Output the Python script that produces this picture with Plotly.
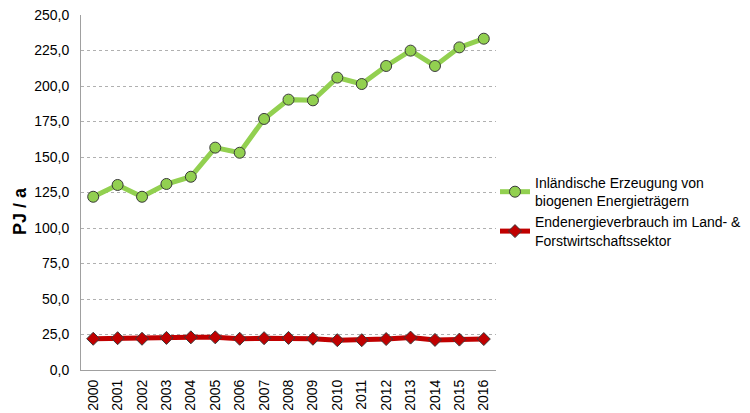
import plotly.graph_objects as go

YEARS = [str(y) for y in range(2000, 2017)]

ERZEUGUNG = [122.0, 130.3, 122.0, 131.0, 136.1, 156.6, 153.0, 176.8, 190.4,
             189.9, 205.9, 201.4, 214.1, 224.9, 214.1, 227.2, 233.3]
VERBRAUCH = [22.0, 22.4, 22.0, 22.6, 23.0, 23.0, 22.0, 22.4, 22.6,
             22.0, 21.0, 21.0, 21.8, 22.8, 21.2, 21.4, 21.8]

NAME_GREEN = "Inländische Erzeugung von<br>biogenen Energieträgern"
NAME_RED = "Endenergieverbrauch im Land- &<br>Forstwirtschaftssektor"

Y_TICKS = [0, 25, 50, 75, 100, 125, 150, 175, 200, 225, 250]

FONT = "Liberation Sans, Arial, sans-serif"

# the page body adds an 8px offset, so the figure is 8px smaller
OFF = 8
W, H = 750 - OFF, 413 - OFF
# plot area in window pixels: x 81..496, y 15..370
L, R, T, B = 81 - OFF, 750 - 496, 15 - OFF, 413 - 370
PW, PH = 496 - 81, 370 - 15

fig = go.Figure()
fig.add_trace(go.Scatter(
    x=YEARS, y=ERZEUGUNG, name=NAME_GREEN, mode="lines+markers",
    line=dict(color="#92D050", width=5),
    marker=dict(symbol="circle", size=11, color="#92D050",
                line=dict(color="#3a3a3a", width=1)),
))
fig.add_trace(go.Scatter(
    x=YEARS, y=VERBRAUCH, name=NAME_RED, mode="lines+markers",
    line=dict(color="#C00000", width=5),
    marker=dict(symbol="diamond", size=10, color="#C00000",
                line=dict(color="#3a3a3a", width=1)),
))

fig.update_layout(
    width=W, height=H,
    margin=dict(l=L, r=R, t=T, b=B, autoexpand=False),
    paper_bgcolor="white", plot_bgcolor="white",
    separators=",.",
    font=dict(family=FONT, size=14, color="black"),
    showlegend=True,
    legend=dict(x=(495 - 81) / PW, y=(370 - 167) / PH, xanchor="left", yanchor="top",
                font=dict(size=14), tracegroupgap=2,
                itemwidth=30, bgcolor="rgba(0,0,0,0)"),
    xaxis=dict(type="category", range=[-0.5, len(YEARS) - 0.5],
               tickangle=-90, showgrid=False, automargin=False,
               showline=True, linecolor="#a0a0a0", linewidth=1,
               ticks="", ticklabelstandoff=3, tickfont=dict(size=14)),
    yaxis=dict(range=[0, 250], tickvals=Y_TICKS, tickformat=".1f", automargin=False,
               ticklabeloverflow="allow",
               showgrid=True, gridcolor="#b0b0b0", griddash="3px,3px", gridwidth=1,
               showline=True, linecolor="#a0a0a0", linewidth=1,
               zeroline=False, ticks="", ticklabelstandoff=8, tickfont=dict(size=14)),
    annotations=[dict(
        text="<b>PJ / a</b>", textangle=-90,
        x=(OFF - 81) / PW, y=(370 - 211) / PH,
        xref="paper", yref="paper", xanchor="left", yanchor="middle",
        showarrow=False, font=dict(size=18),
    )],
)

fig.write_html("out.html")
